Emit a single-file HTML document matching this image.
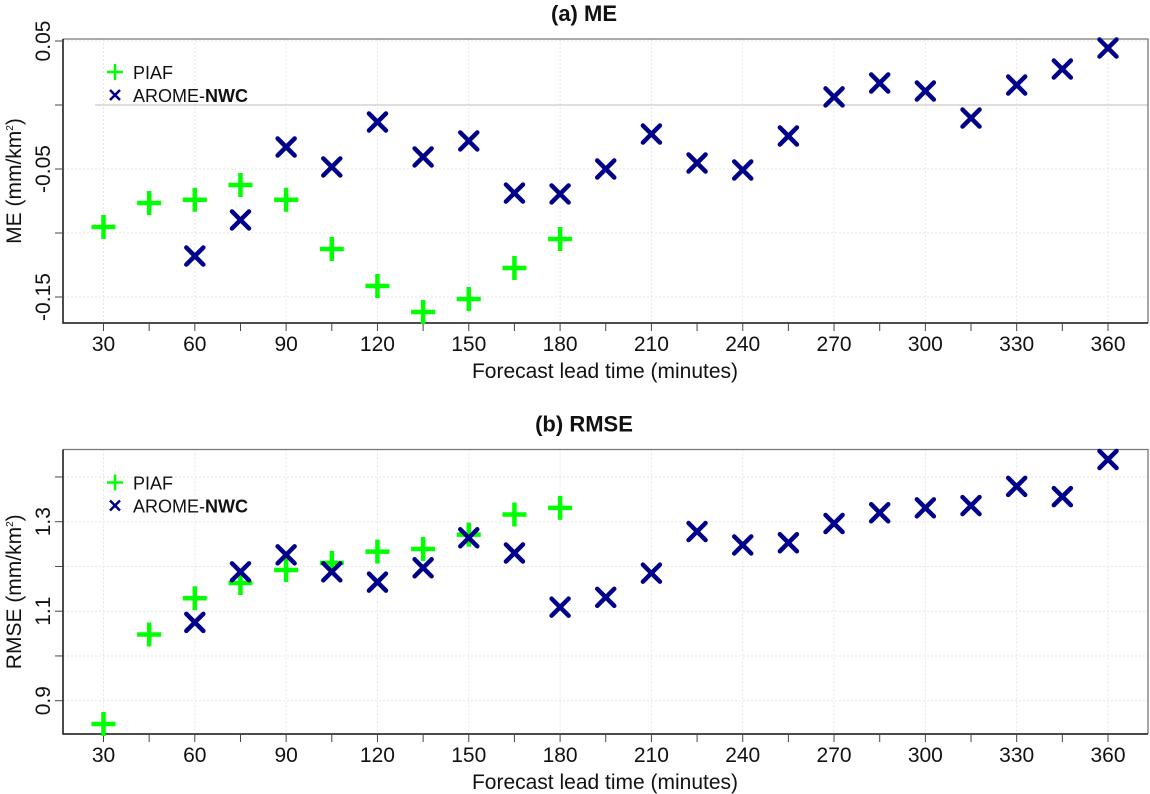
<!DOCTYPE html>
<html><head><meta charset="utf-8"><style>
html,body{margin:0;padding:0;background:#fff;}
svg{display:block;font-family:"Liberation Sans",sans-serif;}
</style></head><body>
<svg id="chart" width="1150" height="794" viewBox="0 0 1150 794"></svg>
<script>
const leadTimes = [30,45,60,75,90,105,120,135,150,165,180,195,210,225,240,255,270,285,300,315,330,345,360];
const xTickLabels = [30,60,90,120,150,180,210,240,270,300,330,360];
const mePiafTimes = [30,45,60,75,90,105,120,135,150,165,180];
const mePiaf = [-0.0953,-0.0766,-0.074,-0.0625,-0.074,-0.1125,-0.1414,-0.1617,-0.1516,-0.1273,-0.1047];
const meAromeTimes = [60,75,90,105,120,135,150,165,180,195,210,225,240,255,270,285,300,315,330,345,360];
const meArome = [-0.118,-0.0898,-0.0328,-0.0484,-0.0133,-0.0406,-0.0281,-0.0688,-0.0695,-0.05,-0.0227,-0.0453,-0.0508,-0.0242,0.0063,0.0172,0.0109,-0.0102,0.0156,0.0281,0.0445];
const rmsePiaf = [0.848,1.048,1.129,1.163,1.192,1.208,1.233,1.239,1.271,1.316,1.331];
const rmseArome = [1.075,1.188,1.226,1.188,1.165,1.197,1.264,1.230,1.109,1.131,1.185,1.278,1.248,1.253,1.296,1.320,1.331,1.336,1.379,1.356,1.439];
const meTicks = [0.05,0,-0.05,-0.1,-0.15];
const meTickLabels = ["0.05","","-0.05","","-0.15"];
const rmseTicks = [1.4,1.3,1.2,1.1,1.0,0.9];
const rmseTickLabels = ["","1.3","","1.1","","0.9"];

const NS="http://www.w3.org/2000/svg";
const svg=document.getElementById('chart');
function mk(tag,attrs,parent){const e=document.createElementNS(NS,tag);for(const k in attrs)e.setAttribute(k,attrs[k]);(parent||svg).appendChild(e);return e;}
function xScale(t){return 103.5+(t-30)*(1108-103.5)/330;}

function panel(cfg){
  const g=mk('g',{});
  
  
  const L=63,R=1148,T=cfg.top,B=cfg.bottom;
  const y=v=>cfg.y0+(v-cfg.v0)*cfg.k;
  xTickLabels.forEach(t=>{const l=mk('line',{x1:xScale(t),x2:xScale(t),y1:T,y2:B,stroke:'#e6e6e6','stroke-dasharray':'2,2','stroke-width':1},g);
    });
  cfg.ticks.forEach(v=>{if(cfg.zero&&v===0)return;const l=mk('line',{x1:L,x2:R,y1:y(v),y2:y(v),stroke:'#e6e6e6','stroke-dasharray':'2,2','stroke-width':1},g);
    });
  if(cfg.zero){const z=mk('line',{x1:95,x2:R,y1:y(0),y2:y(0),stroke:'#d4d4d4','stroke-width':1.5},g);
    }
  mk('path',{d:`M${L},${T}H${R}V${B}`,fill:'none',stroke:'#777','stroke-width':1.3},g);
  mk('path',{d:`M${L},${T}V${B}H${R}`,fill:'none',stroke:'#111','stroke-width':1.5},g);
  leadTimes.forEach(t=>{mk('line',{x1:xScale(t),x2:xScale(t),y1:B,y2:B+8,stroke:'#444','stroke-width':1},g);});
  xTickLabels.forEach(t=>{const tx=mk('text',{x:xScale(t),y:B+28,'text-anchor':'middle','font-size':21,fill:'#111'},g);tx.textContent=t;
    });
  cfg.ticks.forEach((v,i)=>{mk('line',{x1:L-8,x2:L,y1:y(v),y2:y(v),stroke:'#444','stroke-width':1},g);
    if(cfg.labels[i]){const tx=mk('text',{x:0,y:0,'text-anchor':'middle','font-size':21,fill:'#111',transform:`translate(50,${y(v)}) rotate(-90)`},g);tx.textContent=cfg.labels[i];
      }});
  const tt=mk('text',{x:584,y:T-18,'text-anchor':'middle','font-size':22,'font-weight':'bold',fill:'#111'},g);tt.textContent=cfg.title;
  
  const xt=mk('text',{x:605,y:B+55,'text-anchor':'middle','font-size':21,fill:'#111'},g);xt.textContent='Forecast lead time (minutes)';
  
  const yt=mk('text',{x:0,y:0,'text-anchor':'middle','font-size':21,fill:'#111',transform:`translate(21,${(T+B)/2}) rotate(-90)`},g);
  yt.innerHTML=cfg.ylab+' (mm/km<tspan font-size="10" dy="-8">2</tspan><tspan dy="8">)</tspan>';
  
  const lg=mk('g',{},g);
  const ly=T+33;
  mk('path',{d:`M107,${ly}h16M115,${ly-8}v16`,stroke:'#00ff00','stroke-width':2.5},lg);
  const t1=mk('text',{x:133,y:ly+7,'font-size':18,fill:'#111'},lg);t1.textContent='PIAF';
  mk('path',{d:`M110,${ly+18}l10,10M120,${ly+18}l-10,10`,stroke:'#00008b','stroke-width':2.5},lg);
  const t2=mk('text',{x:133,y:ly+30,'font-size':18,fill:'#111'},lg);t2.innerHTML='AROME-<tspan font-weight="bold">NWC</tspan>';
  cfg.piaf.forEach((v,i)=>{const cx=xScale(mePiafTimes[i]),cy=y(v);
    const p=mk('path',{d:`M${cx-12},${cy}h24M${cx},${cy-12}v24`,stroke:'#00ff00','stroke-width':4.5},g);
    });
  cfg.arome.forEach((v,i)=>{const cx=xScale(meAromeTimes[i]),cy=y(v);
    const p=mk('path',{d:`M${cx-8.5},${cy-8.5}l17,17M${cx+8.5},${cy-8.5}l-17,17`,stroke:'#00008b','stroke-width':4.5,'stroke-linecap':'round'},g);
    });
}
panel({name:'me-panel',title:'(a) ME',ylab:'ME',top:39,bottom:323,v0:0.05,y0:41,k:-1280,ticks:meTicks,labels:meTickLabels,piaf:mePiaf,arome:meArome,zero:true});
panel({name:'rmse-panel',title:'(b) RMSE',ylab:'RMSE',top:449.5,bottom:734,v0:1.3,y0:521.7,k:-447.5,ticks:rmseTicks,labels:rmseTickLabels,piaf:rmsePiaf,arome:rmseArome,zero:false});
</script>
</body></html>
